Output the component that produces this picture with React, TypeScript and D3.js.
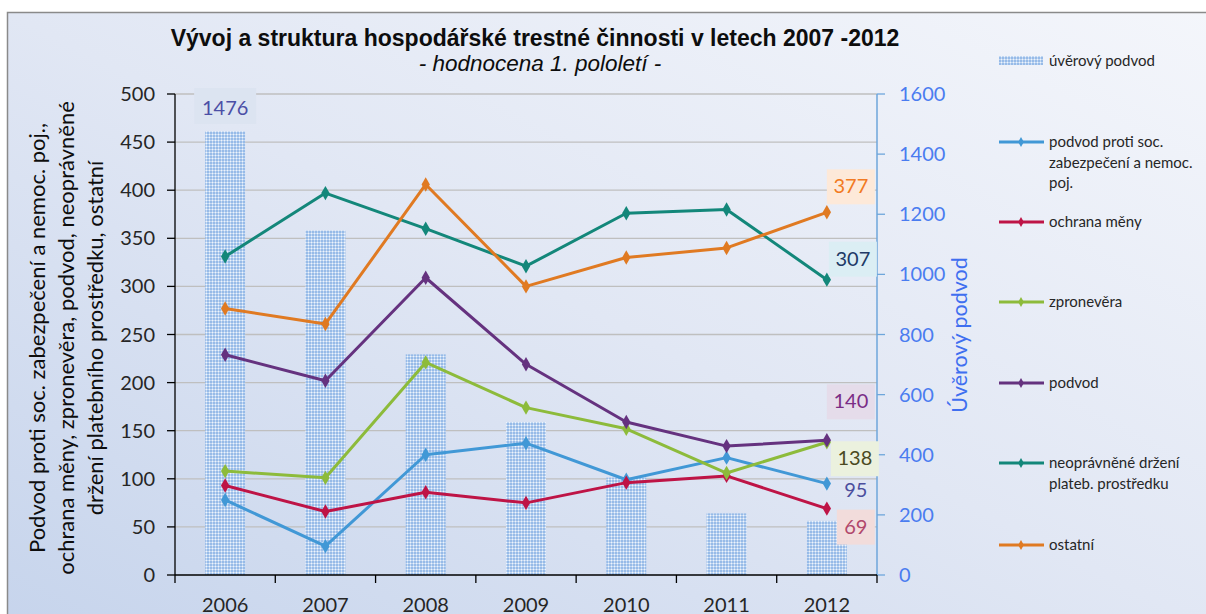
import React from 'react';
import * as d3 from 'd3';

const years = ['2006', '2007', '2008', '2009', '2010', '2011', '2012'];
const uverovyPodvod = [1476, 1146, 734, 509, 324, 205, 180];
const socPodvod = [78, 30, 125, 137, 99, 122, 95];
const ochranaMeny = [93, 66, 86, 75, 96, 103, 69];
const zpronevera = [108, 101, 221, 174, 152, 106, 138];
const podvod = [229, 202, 309, 219, 159, 134, 140];
const neopravnene = [331, 397, 360, 321, 376, 380, 307];
const ostatni = [277, 261, 406, 300, 330, 340, 377];
const leftTicks = [0, 50, 100, 150, 200, 250, 300, 350, 400, 450, 500];
const rightTicks = [0, 200, 400, 600, 800, 1000, 1200, 1400, 1600];

// lines, in drawing order (legend order)
const series = [
  { name: ['podvod proti soc.', 'zabezpečení a nemoc.', 'poj.'], values: socPodvod, color: '#4198d6', legendY: 142,
    label: { dx: 29, dy: 6, bg: null, fg: '#4b4f9e', w: 0 } },
  { name: ['ochrana měny'], values: ochranaMeny, color: '#be1446', legendY: 222,
    label: { dx: 29, dy: 18, bg: '#f2dcdb', fg: '#b1476b', w: 38 } },
  { name: ['zpronevěra'], values: zpronevera, color: '#8dbb3b', legendY: 302,
    label: { dx: 28, dy: 16, bg: '#ebf1de', fg: '#4a4a22', w: 48 } },
  { name: ['podvod'], values: podvod, color: '#65327f', legendY: 383,
    label: { dx: 24, dy: -39, bg: '#e5dcea', fg: '#7a2c86', w: 48 } },
  { name: ['neoprávněné držení', 'plateb. prostředku'], values: neopravnene, color: '#13877a', legendY: 463,
    label: { dx: 26, dy: -21, bg: '#dbeef4', fg: '#213a66', w: 48 } },
  { name: ['ostatní'], values: ostatni, color: '#e07a22', legendY: 545,
    label: { dx: 24, dy: -26, bg: '#fde9d9', fg: '#f27a22', w: 48 } },
];

const left = 175, right = 877, top = 94, bottom = 575;
const font = 'Lato, "Open Sans", sans-serif';

export default function App() {
  const x = d3.scaleBand().domain(years).range([left, right]);
  const yL = d3.scaleLinear().domain([0, 500]).range([bottom, top]);
  const yR = d3.scaleLinear().domain([0, 1600]).range([bottom, top]);
  const cx = (i: number) => (x(years[i]) as number) + x.bandwidth() / 2;
  const barW = 40;
  const diamond = d3.symbol(d3.symbolDiamond, 60)() as string;
  const smallDiamond = d3.symbol(d3.symbolDiamond, 28)() as string;
  const line = d3.line<number>().x((_, i) => cx(i)).y(d => yL(d));

  return (
    <svg width={1206} height={614} style={{ position: 'absolute', left: 0, top: 0, display: 'block' }}>
      <defs>
        <linearGradient id="bg" x1="1" y1="0" x2="0" y2="1">
          <stop offset="0" stopColor="#f4f6fb" />
          <stop offset="0.5" stopColor="#e1e7f4" />
          <stop offset="1" stopColor="#c6d4ec" />
        </linearGradient>
        <pattern id="dots" width="3" height="3" patternUnits="userSpaceOnUse">
          <rect width="3" height="3" fill="#c3d8f2" />
          <rect width="2" height="2" fill="#97bbe8" />
          <rect x="2" y="2" width="1" height="1" fill="#eef4fc" />
        </pattern>
      </defs>
      <rect x={0} y={0} width={1206} height={614} fill="#ffffff" />
      <rect x={7.5} y={12.5} width={1210} height={620} fill="url(#bg)" stroke="#8a8a8a" strokeWidth={1.5} />

      <text x={535} y={46} textAnchor="middle" fontFamily="'Liberation Sans', Arial, sans-serif" fontWeight="bold" fontSize={23} fill="#0d0d0d">
        Vývoj a struktura hospodářské trestné činnosti v letech 2007 -2012
      </text>
      <text x={540} y={71} textAnchor="middle" fontFamily="'Liberation Sans', Arial, sans-serif" fontStyle="italic" fontSize={22.5} fill="#0d0d0d">
        - hodnocena 1. pololetí -
      </text>

      {/* gridlines */}
      {leftTicks.slice(1).map(t => (
        <line key={t} x1={left} x2={right} y1={yL(t)} y2={yL(t)} stroke="#bfbfbf" strokeWidth={1.3} />
      ))}

      {/* bars on right axis */}
      {uverovyPodvod.map((v, i) => (
        <rect key={i} x={cx(i) - barW / 2} y={yR(v)} width={barW} height={bottom - yR(v)} fill="url(#dots)" />
      ))}

      {/* left axis */}
      <line x1={left} x2={left} y1={top} y2={bottom} stroke="#000" strokeWidth={1.3} />
      {leftTicks.map(t => (
        <g key={t}>
          <line x1={left - 8} x2={left} y1={yL(t)} y2={yL(t)} stroke="#000" strokeWidth={1.3} />
          <text x={155} y={yL(t) + 7} textAnchor="end" fontFamily={font} fontSize={20} fill="#262626">{t}</text>
        </g>
      ))}
      <g transform="translate(0,338) rotate(-90)" fontFamily={font} fontSize={22} fill="#0d0d0d" textAnchor="middle">
        <text x={0} y={45}>Podvod proti soc. zabezpečení a nemoc. poj.,</text>
        <text x={0} y={74}>ochrana měny, zpronevěra, podvod, neoprávněné</text>
        <text x={0} y={103}>držení platebního prostředku, ostatní</text>
      </g>

      {/* right axis */}
      <line x1={right} x2={right} y1={top} y2={bottom} stroke="#6ea6db" strokeWidth={1.5} />
      {rightTicks.map(t => (
        <g key={t}>
          <line x1={right} x2={right + 8} y1={yR(t)} y2={yR(t)} stroke="#6ea6db" strokeWidth={1.3} />
          <text x={899} y={yR(t) + 7} fontFamily={font} fontSize={20} fill="#4a7cf0">{t}</text>
        </g>
      ))}
      <text transform="translate(967,335) rotate(-90)" textAnchor="middle" fontFamily={font} fontSize={21.5} fill="#3f6ff0">
        Úvěrový podvod
      </text>

      {/* x axis */}
      <line x1={left} x2={right} y1={bottom} y2={bottom} stroke="#000" strokeWidth={1.3} />
      {years.map((yr, i) => (
        <g key={yr}>
          <line x1={x(yr)} x2={x(yr)} y1={bottom} y2={bottom + 8} stroke="#000" strokeWidth={1.3} />
          <text x={cx(i)} y={612} textAnchor="middle" fontFamily={font} fontSize={20} fill="#262626">{yr}</text>
        </g>
      ))}
      <line x1={right} x2={right} y1={bottom} y2={bottom + 8} stroke="#000" strokeWidth={1.3} />

      {/* lines */}
      {series.map(s => (
        <g key={s.name[0]}>
          <path d={line(s.values) as string} fill="none" stroke={s.color} strokeWidth={3} strokeLinejoin="round" />
          {s.values.map((v, i) => (
            <path key={i} d={diamond} transform={`translate(${cx(i)},${yL(v)})`} fill={s.color} />
          ))}
        </g>
      ))}

      {/* data labels */}
      <rect x={cx(0) - 31} y={88} width={62} height={36} fill="#dce4f1" />
      <text x={cx(0)} y={115} textAnchor="middle" fontFamily={font} fontSize={20} fill="#4b4fa6">{uverovyPodvod[0]}</text>
      {series.map(s => {
        const last = s.values.length - 1;
        const px = cx(last) + s.label.dx;
        const py = yL(s.values[last]) + s.label.dy;
        return (
          <g key={'l' + s.name[0]}>
            {s.label.bg && <rect x={px - s.label.w / 2} y={py - 17} width={s.label.w} height={35} fill={s.label.bg} />}
            <text x={px} y={py + 7} textAnchor="middle" fontFamily={font} fontSize={20} fill={s.label.fg}>{s.values[last]}</text>
          </g>
        );
      })}

      {/* legend */}
      <g fontFamily={font} fontSize={15} fill="#262626">
        <rect x={999} y={56} width={44} height={9} fill="url(#dots)" />
        <text x={1049} y={66}>úvěrový podvod</text>
        {series.map(s => (
          <g key={'g' + s.name[0]}>
            <line x1={999} x2={1044} y1={s.legendY} y2={s.legendY} stroke={s.color} strokeWidth={3} />
            <path d={smallDiamond} transform={`translate(1021,${s.legendY})`} fill={s.color} />
            {s.name.map((n, k) => (
              <text key={k} x={1049} y={s.legendY + 5 + k * 20.5}>{n}</text>
            ))}
          </g>
        ))}
      </g>
    </svg>
  );
}
